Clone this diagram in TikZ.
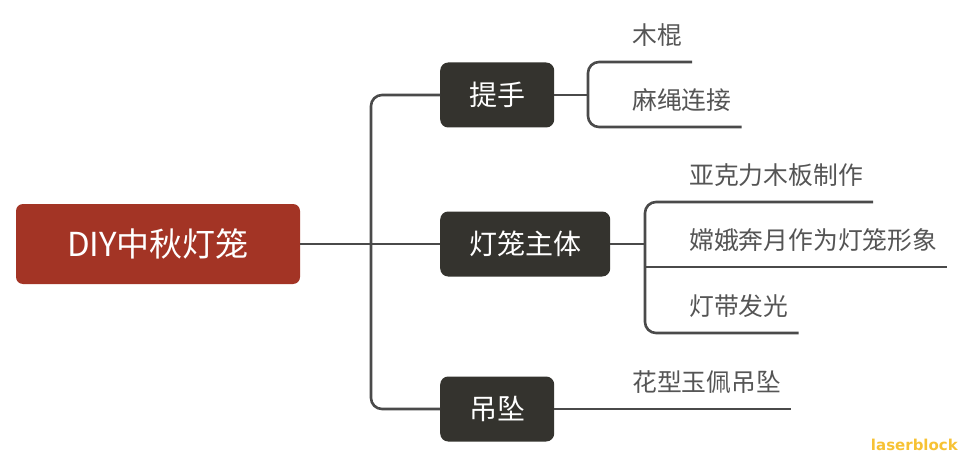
\documentclass[tikz,border=0pt]{standalone}
\usepackage{fontspec}
\newfontfamily\cjk{Noto Sans CJK SC}
\newfontfamily\wmfont{DejaVu Sans}
\definecolor{rootred}{HTML}{A33425}
\definecolor{branchdark}{HTML}{34332E}
\definecolor{linegray}{HTML}{4A4A4A}
\definecolor{leafgray}{HTML}{555555}
\definecolor{wmyellow}{HTML}{F7C234}
\begin{document}
\begin{tikzpicture}[x=1pt,y=-1pt,
  rootbox/.style={draw=none, fill=rootred, rounded corners=7pt, minimum width=284pt, minimum height=80pt, text=white, font=\cjk\fontsize{33}{38}\selectfont, inner sep=0pt},
  branchbox/.style={draw=none, fill=branchdark, rounded corners=8pt, minimum height=65pt, inner xsep=29pt, inner ysep=0pt, text=white, font=\cjk\fontsize{28}{32}\selectfont, anchor=west},
  leaf/.style={anchor=south west, inner xsep=10pt, inner ysep=17pt, text depth=0pt, text=leafgray, font=\cjk\fontsize{24.8}{28}\selectfont},
  conn/.style={draw=linegray, line width=2.6pt},
  bracket/.style={conn, rounded corners=11pt}]
\useasboundingbox (0,0) rectangle (963,457);
\fill[white] (0,0) rectangle (963,457);

% nodes
\node[rootbox] (root) at (158,244) {DIY中秋灯笼};
\node[branchbox] (b1) at (440,95) {提手};
\node[branchbox] (b2) at (440,244) {灯笼主体};
\node[branchbox] (b3) at (440,409) {吊坠};

\node[leaf] (l1) at (622,62) {木棍};
\node[leaf] (l2) at (622,127) {麻绳连接};
\node[leaf] (l3) at (679,202) {亚克力木板制作};
\node[leaf] (l4) at (679,267) {嫦娥奔月作为灯笼形象};
\node[leaf] (l5) at (679,333) {灯带发光};
\node[leaf] (l6) at (622,409) {花型玉佩吊坠};

\coordinate (t) at (371,244);
\coordinate (j1) at (588,95);
\coordinate (j2) at (645,244);

% connectors
\draw[conn] (root.east) -- (b2.west);
\draw[bracket] (b1.west) -| (t) |- (b3.west);
\draw[conn] (b1.east) -- (j1);
\draw[bracket] (l1.south east) -| (j1) |- (l2.south east);
\draw[conn] (b2.east) -- (j2);
\draw[bracket] (l3.south east) -| (j2) |- (l5.south east);
\draw[conn] (j2 |- l4.south) -- (l4.south east);
\draw[conn] (b3.east) -- (l6.south east);

% watermark
\node[anchor=east, inner sep=0pt, text=wmyellow, font=\wmfont\bfseries\fontsize{15}{17}\selectfont] (wm) at (958,445) {laserblock};
\end{tikzpicture}
\end{document}
